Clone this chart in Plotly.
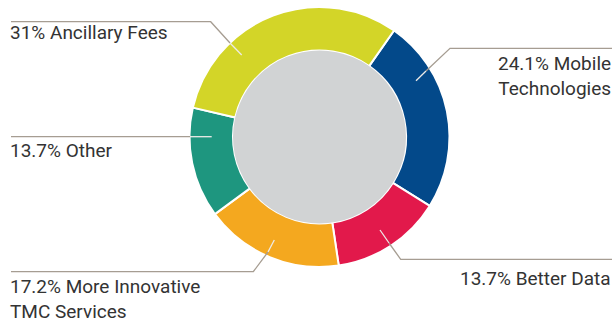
import plotly.graph_objects as go

W, H = 616, 323

labels = ["Mobile Technologies", "Better Data", "More Innovative TMC Services", "Other", "Ancillary Fees"]
values = [24.1, 13.7, 17.2, 13.7, 31.0]
colors = ["#03498A", "#E2194B", "#F4A81F", "#1E967F", "#D3D528"]
label_texts = ["24.1% Mobile<br>Technologies", "13.7% Better Data",
               "17.2% More Innovative<br>TMC Services", "13.7% Other", "31% Ancillary Fees"]

cx, cy, R, r_in = 319.5, 137.0, 130.0, 86.5

def px(x):
    return x / W

def py(y):
    return 1 - y / H

fig = go.Figure(go.Pie(
    labels=labels, values=values, sort=False, direction="clockwise", rotation=35,
    hole=r_in / R, textinfo="none", hoverinfo="label+percent",
    marker=dict(colors=colors, line=dict(color="white", width=2)),
    domain=dict(x=[px(cx - R), px(cx + R)], y=[py(cy + R), py(cy - R)]),
    showlegend=False,
))

shapes = [dict(type="circle", xref="paper", yref="paper",
               x0=px(cx - r_in), x1=px(cx + r_in), y0=py(cy + r_in), y1=py(cy - r_in),
               fillcolor="#D1D3D4", line=dict(width=0), layer="above")]

# leader lines: (inside anchor, edge point, elbow, end)
leaders = [
    [(416, 80.7), (426, 71), (450, 48.3), (612, 48.3)],
    [(380, 230), (389, 243), (400.7, 259.3), (612, 259.3)],
    [(274.3, 240), (268, 252), (253.3, 271.7), (11, 271.7)],
    [(211.7, 136.7), (190, 136.7), (190, 136.7), (11, 136.7)],
    [(241.7, 55), (230, 43), (210.7, 21.7), (11, 21.7)],
]
line_col = "#A69D92"
for pts in leaders:
    (x0, y0), (x1, y1), (x2, y2), (x3, y3) = pts
    shapes.append(dict(type="line", xref="paper", yref="paper", x0=px(x0), y0=py(y0),
                       x1=px(x1), y1=py(y1), line=dict(color="#EDEBE8", width=1.3), layer="above"))
    shapes.append(dict(type="path", xref="paper", yref="paper",
                       path=f"M {px(x1)},{py(y1)} L {px(x2)},{py(y2)} L {px(x3)},{py(y3)}",
                       line=dict(color=line_col, width=1.3), layer="above"))

ann_pos = [
    (612, 76, "right"),
    (612, 278.3, "right"),
    (9, 298.5, "left"),
    (9, 150, "left"),
    (9, 33, "left"),
]
annotations = []
for t, (x, y, a) in zip(label_texts, ann_pos):
    annotations.append(dict(text=t, x=px(x), y=py(y), xref="paper", yref="paper",
                            xanchor=a, yanchor="middle", align=a, showarrow=False,
                            borderpad=0,
                            font=dict(family="Roboto", size=19, color="#333333")))

fig.update_layout(width=W, height=H, margin=dict(l=0, r=0, t=0, b=0),
                  paper_bgcolor="white", plot_bgcolor="white",
                  shapes=shapes, annotations=annotations)

fig.write_html("out.html")
